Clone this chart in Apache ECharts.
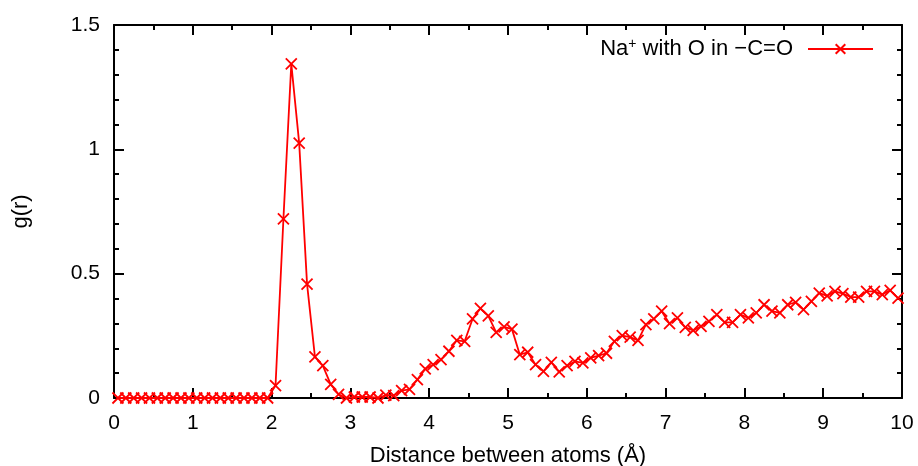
<!DOCTYPE html>
<html>
<head>
<meta charset="utf-8">
<script src="https://cdn.jsdelivr.net/npm/echarts@6/dist/echarts.min.js"></script>
<style>
html,body{margin:0;padding:0;background:#fff;}
#chart{width:918px;height:466px;}
</style>
</head>
<body>
<div id="chart"></div>
<script>
var distances = [0.05,0.15,0.25,0.35,0.45,0.55,0.65,0.75,0.85,0.95,
  1.05,1.15,1.25,1.35,1.45,1.55,1.65,1.75,1.85,1.95,
  2.05,2.15,2.25,2.35,2.45,2.55,2.65,2.75,2.85,2.95,
  3.05,3.15,3.25,3.35,3.45,3.55,3.65,3.75,3.85,3.95,
  4.05,4.15,4.25,4.35,4.45,4.55,4.65,4.75,4.85,4.95,
  5.05,5.15,5.25,5.35,5.45,5.55,5.65,5.75,5.85,5.95,
  6.05,6.15,6.25,6.35,6.45,6.55,6.65,6.75,6.85,6.95,
  7.05,7.15,7.25,7.35,7.45,7.55,7.65,7.75,7.85,7.95,
  8.05,8.15,8.25,8.35,8.45,8.55,8.65,8.75,8.85,8.95,
  9.05,9.15,9.25,9.35,9.45,9.55,9.65,9.75,9.85,9.95];
var gr = [0,0,0,0,0,0,0,0,0,0,
  0,0,0,0,0,0,0,0,0,0,
  0.05,0.72,1.344,1.025,0.458,0.165,0.13,0.055,0.015,0,
  0.004,0.004,0.004,0,0.012,0.01,0.03,0.035,0.074,0.117,
  0.134,0.154,0.188,0.232,0.228,0.318,0.36,0.33,0.264,0.286,
  0.277,0.174,0.184,0.134,0.107,0.143,0.105,0.13,0.147,0.141,
  0.161,0.17,0.18,0.228,0.251,0.245,0.232,0.295,0.318,0.349,
  0.299,0.322,0.284,0.272,0.288,0.308,0.335,0.304,0.304,0.335,
  0.322,0.342,0.375,0.349,0.342,0.375,0.385,0.355,0.389,0.422,
  0.411,0.429,0.42,0.406,0.406,0.429,0.429,0.416,0.433,0.402];
var seriesName = 'Na+ with O in \u2212C=O';
var xTitle = 'Distance between atoms (\u00C5)';
var yTitle = 'g(r)';

var data = distances.map(function(d, i){ return [d, gr[i]]; });
var FONT = '"Liberation Sans", Arial, sans-serif';
var RED = '#ff0000';

function axisBase(pos, showLabel){
  return {
    type: 'value',
    position: pos,
    axisLine: {show: true, onZero: false, lineStyle: {color: '#000', width: 2}},
    axisTick: {show: true, inside: true, length: 10, lineStyle: {color: '#000', width: 2}},
    minorTick: {show: true, length: 5, lineStyle: {color: '#000', width: 2}},
    splitLine: {show: false},
    minorSplitLine: {show: false},
    axisLabel: {show: showLabel, color: '#000', fontFamily: FONT, fontSize: 21}
  };
}

var x0 = axisBase('bottom', true);
x0.min = 0; x0.max = 10; x0.interval = 1;
x0.minorTick.splitNumber = 2;
x0.axisLabel.margin = 15;
x0.name = xTitle; x0.nameLocation = 'middle'; x0.nameGap = 47;
x0.nameTextStyle = {color: '#000', fontFamily: FONT, fontSize: 22};
var x1 = axisBase('top', false);
x1.min = 0; x1.max = 10; x1.interval = 1;
x1.minorTick.splitNumber = 2;

var y0 = axisBase('left', true);
y0.min = 0; y0.max = 1.5; y0.interval = 0.5;
y0.minorTick.splitNumber = 5;
y0.axisLabel.margin = 14;
y0.name = yTitle; y0.nameLocation = 'middle'; y0.nameGap = 82;
y0.nameTextStyle = {color: '#000', fontFamily: FONT, fontSize: 22};
var y1 = axisBase('right', false);
y1.min = 0; y1.max = 1.5; y1.interval = 0.5;
y1.minorTick.splitNumber = 5;

var chart = echarts.init(document.getElementById('chart'), null, {renderer: 'canvas'});
chart.setOption({
  animation: false,
  backgroundColor: '#fff',
  grid: {left: 114, right: 16, top: 25, bottom: 68, containLabel: false, outerBoundsMode: 'none'},
  legend: {
    right: 39, top: 32,
    align: 'right',
    itemWidth: 65, itemHeight: 12,
    data: [seriesName],
    formatter: function(){ return 'Na{sup|+} with O in \u2212C=O'; },
    textStyle: {
      color: '#000', fontFamily: FONT, fontSize: 22, padding: [0, 10, 0, 0],
      rich: {sup: {fontFamily: FONT, fontSize: 14, verticalAlign: 'top', padding: [0, 0, 10, 0], color: '#000'}}
    }
  },
  xAxis: [x0, x1],
  yAxis: [y0, y1],
  series: [{
    name: seriesName,
    type: 'line',
    data: data,
    xAxisIndex: 0, yAxisIndex: 0,
    symbol: 'path://M0,0L10,10M0,10L10,0',
    symbolSize: 11,
    showSymbol: true,
    lineStyle: {color: RED, width: 1.8},
    itemStyle: {color: RED, borderColor: RED, borderWidth: 1.8},
    emphasis: {disabled: true}
  }]
});
</script>
</body>
</html>
